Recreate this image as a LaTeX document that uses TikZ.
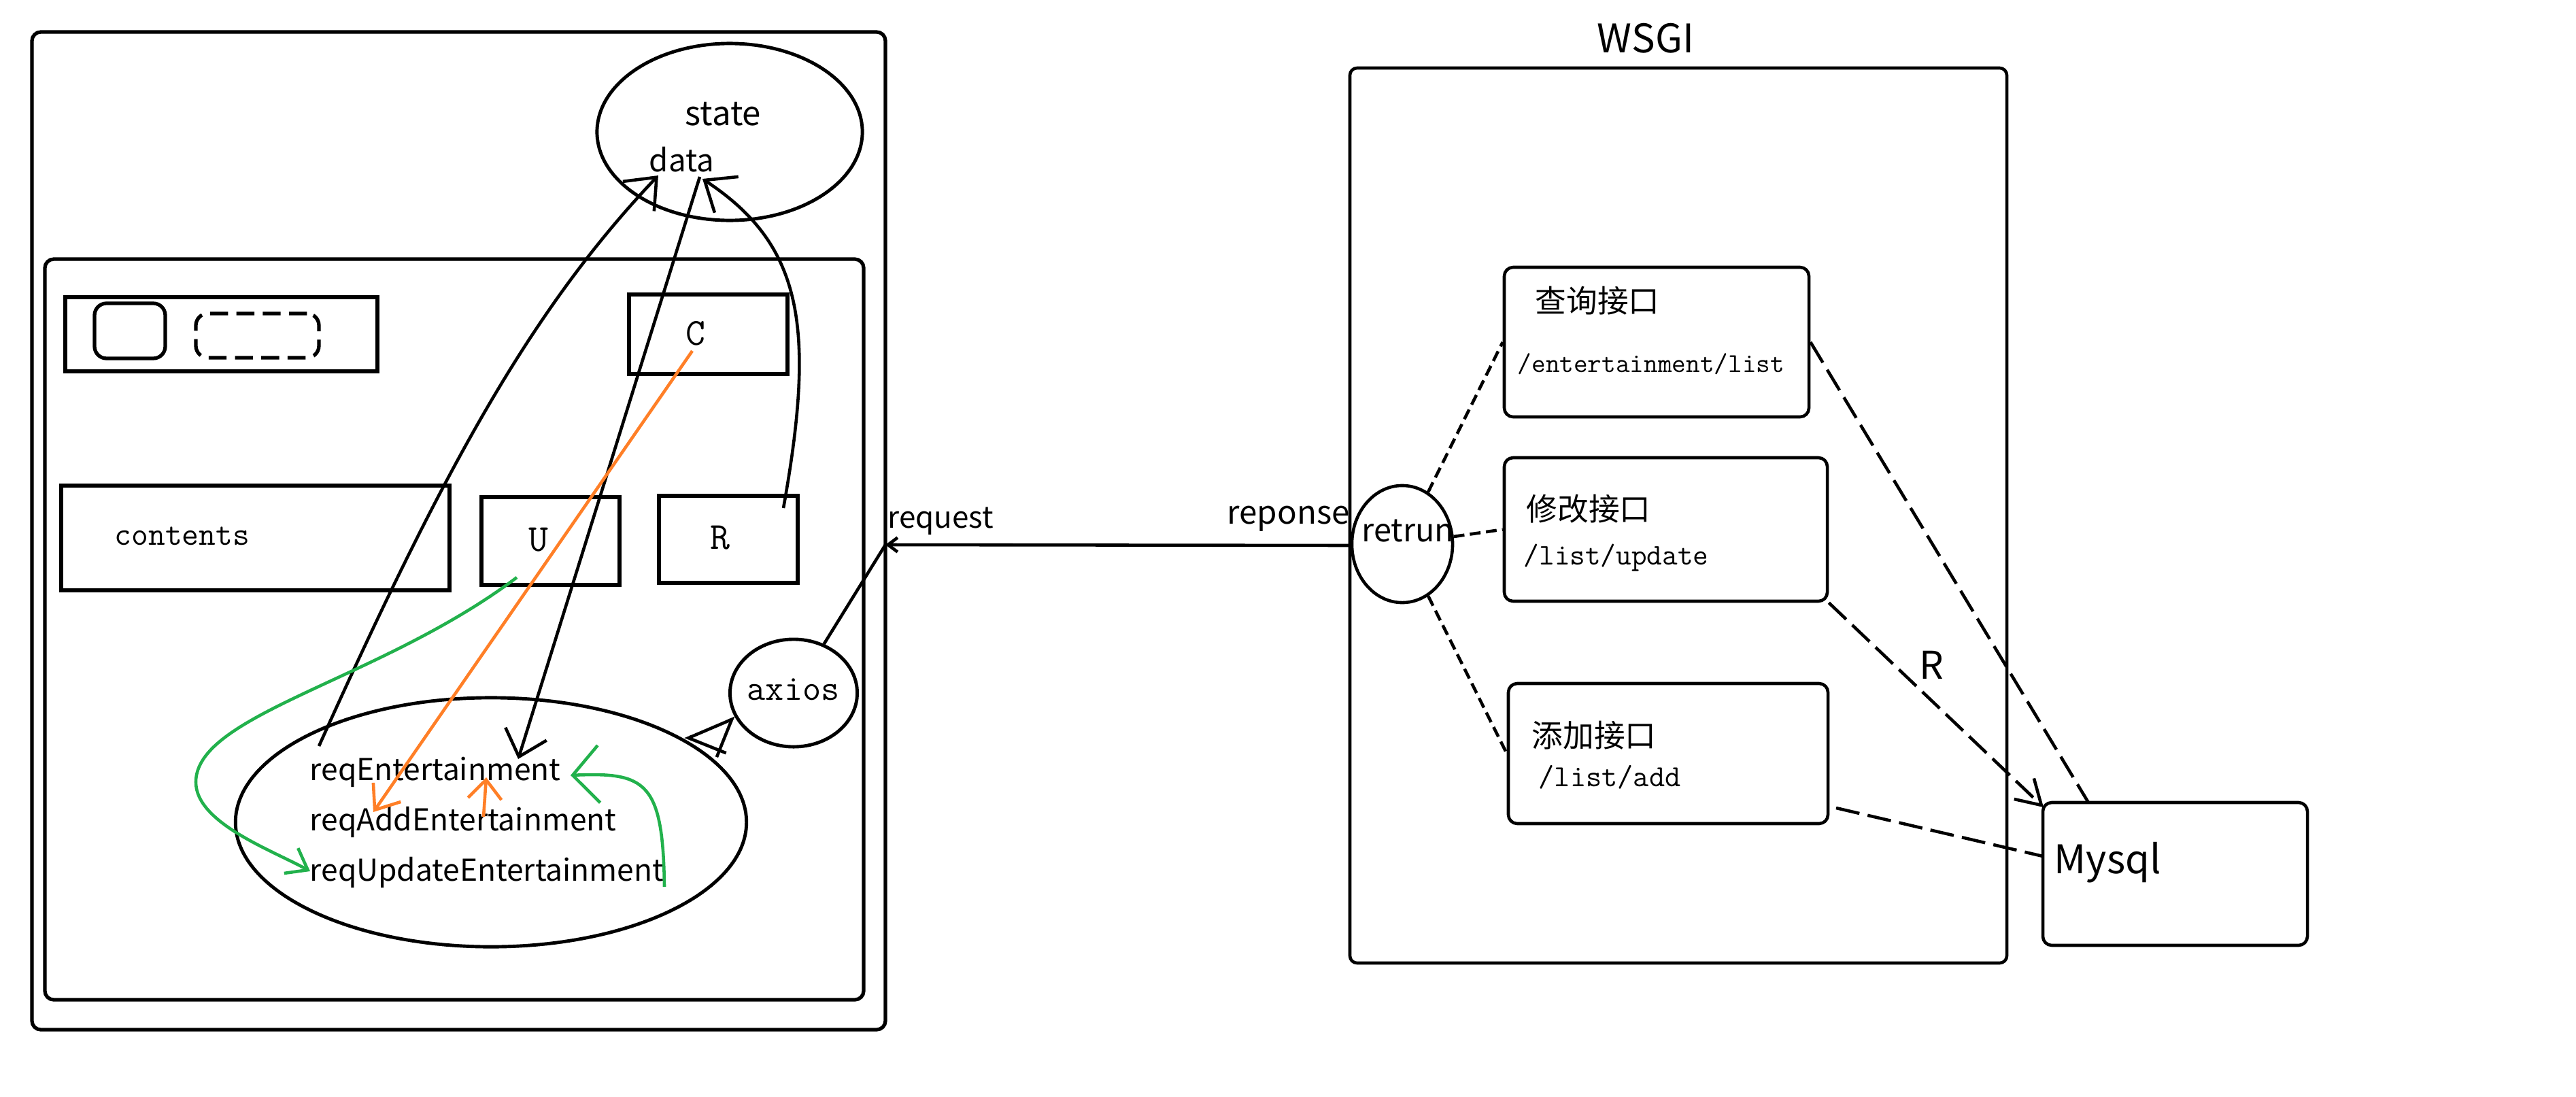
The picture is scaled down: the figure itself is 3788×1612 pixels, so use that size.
\documentclass[tikz,border=0pt]{standalone}
\usepackage{fontspec}
\newfontfamily\cjk{Noto Sans CJK SC}
\usetikzlibrary{shapes.geometric,arrows.meta,fit}
\definecolor{paintorange}{RGB}{255,127,39}
\definecolor{paintgreen}{RGB}{34,177,76}
\begin{document}
\begin{tikzpicture}[x=0.01cm,y=-0.01cm,
  box/.style={draw, line width=1.5pt, inner sep=0pt},
  rbox/.style={box, rounded corners=3.7pt},
  oval/.style={draw, ellipse, line width=1.4pt, inner sep=0pt},
  lbl/.style={inner sep=0pt, anchor=west},
  sf/.style={inner sep=0pt, font=\cjk\fontsize{#1}{#1}\selectfont},
  tt/.style={inner sep=0pt, font=\ttfamily\fontsize{#1}{#1}\selectfont},
  conn/.style={line width=1.3pt},
  blk/.style={conn, -{Straight Barb[length=11pt,width=18pt]}},
  org/.style={conn, paintorange, -{Straight Barb[length=9pt,width=14pt]}},
  grn/.style={conn, paintgreen},
  shortdash/.style={conn, dash pattern=on 4.5pt off 2.3pt},
  longdash/.style={conn, dash pattern=on 10pt off 3.5pt},
]
\useasboundingbox (0,0) rectangle (3788,1612);

% ---------------- left panel ----------------
\node[rbox, fit={(47,47)(1302,1514)}] (outer) {};
\node[oval, minimum width=3.9cm, minimum height=2.6cm] (state) at (1073,194) {};
\node[sf=14pt, lbl] (stateT) at (1007,168) {state};
\node[sf=13pt, lbl] (dataT) at (954,235) {data};

\node[rbox, fit={(66,381)(1270,1470)}] (inner) {};
\node[box, fit={(96,437)(555,546)}] (toolbar) {};
\node[box, rounded corners=5pt, fit={(139,446)(243,527)}] (btnA) {};
\node[box, rounded corners=5pt, dash pattern=on 7.5pt off 3.5pt, fit={(288,461)(469,526)}] (btnB) {};

\node[box, fit={(925,433)(1158,550)}] (Cbox) {};
\node[tt=16pt] (Ct) at (1023,490) {C};
\node[box, fit={(90,714)(661,868)}] (contents) {};
\node[tt=13.7pt, lbl] (contentsT) at (168,788) {contents};
\node[box, fit={(708,731)(911,860)}] (Ubox) {};
\node[tt=16pt] (Ut) at (792,794) {U};
\node[box, fit={(969,729)(1173,857)}] (Rbox) {};
\node[tt=16pt] (Rt) at (1059,791) {R};

\node[oval, minimum width=7.51cm, minimum height=3.66cm] (reqs) at (722,1209) {};
\node[sf=12.6pt, lbl] (reqE) at (455,1135) {reqEntertainment};
\node[sf=12.6pt, lbl] (reqA) at (455,1209) {reqAddEntertainment};
\node[sf=12.6pt, lbl] (reqU) at (455,1283) {reqUpdateEntertainment};

\node[oval, minimum width=1.87cm, minimum height=1.58cm] (axios) at (1167,1019) {};
\node[tt=15pt, lbl] (axiosT) at (1098,1014) {axios};

% ---------------- right panel ----------------
\node[rbox, rounded corners=3pt, line width=1.3pt, fit={(1985,100)(2951,1416)}] (wsgi) {};
\node[sf=16.5pt] (wsgiT) at (2420,56) {WSGI};

\node[rbox, line width=1.3pt, fit={(2212,393)(2660,613)}] (qry) {};
\node[sf=13pt, lbl] (qryT) at (2257,442) {查询接口};
\node[tt=11.4pt, lbl] (qryP) at (2231,535) {/entertainment/list};

\node[rbox, line width=1.3pt, fit={(2212,673)(2687,884)}] (upd) {};
\node[sf=13pt, lbl] (updT) at (2244,748) {修改接口};
\node[tt=12.5pt, lbl] (updP) at (2240,820) {/list/update};

\node[rbox, line width=1.3pt, fit={(2218,1005)(2688,1211)}] (add) {};
\node[sf=13pt, lbl] (addT) at (2252,1081) {添加接口};
\node[tt=12.8pt, lbl] (addP) at (2262,1143) {/list/add};

\node[oval, line width=1.3pt, minimum width=1.48cm, minimum height=1.72cm] (ret) at (2062,800) {};
\node[sf=13.3pt, lbl] (retT) at (2002,781) {retrun};

\node[rbox, line width=1.3pt, fit={(3004,1180)(3393,1390)}] (mysql) {};
\node[sf=16.5pt, lbl] (mysqlT) at (3020,1268) {Mysql};
\node[sf=16pt] (Rlab) at (2840,978) {R};

% ---------------- coordinates ----------------
\coordinate (reqL) at (1302,801);
\coordinate (reqR) at (1985,802);
\coordinate (dA) at (968,258);
\coordinate (dB) at (1029,260);
\coordinate (dC) at (1033,263);
\coordinate (aS) at (469,1097);
\coordinate (bE) at (762,1116);
\coordinate (cS) at (1152,747);
\coordinate (oS) at (1018,516);
\coordinate (oE) at (549,1194);
\coordinate (o2S) at (711,1201);
\coordinate (o2E) at (715,1143);
\coordinate (gS) at (760,849);
\coordinate (gM) at (288,1150);
\coordinate (gE) at (456,1281);
\coordinate (g2S) at (977,1304);
\coordinate (g2E) at (839,1140);
\coordinate (mq) at (3071,1180);
\coordinate (mu) at (3005,1187);
\coordinate (aE) at (2700,1188);
\coordinate (ma) at (3004,1259);

% ---------------- connectors ----------------
\draw[conn, {Straight Barb[length=4pt,width=6pt]}-] (reqL) -- (reqR);
\node[sf=12.5pt, lbl] (requestT) at (1305,766) {request};
\node[sf=13.5pt, lbl] (reponseT) at (1804,763) {reponse};
\draw[conn] (axios) -- (reqL);
\draw[conn, {Straight Barb[harpoon,swap,length=12pt,width=24pt]}-{Straight Barb[harpoon,length=12pt,width=24pt]}] (axios) -- (reqs);

\draw[blk] (aS) .. controls (649,697) and (778,458) .. (dA);
\draw[blk, -{Straight Barb[length=10pt,width=18pt]}] (dB) -- (bE);
\draw[blk] (cS) .. controls (1200,480) and (1180,360) .. (dC);

\draw[org] (oS) -- (oE);
\draw[org, -{Straight Barb[length=8pt,width=14pt]}] (o2S) -- (o2E);

\draw[grn, -{Straight Barb[length=8pt,width=12pt]}] (gS) .. controls (560,1000) and (288,1050) .. (gM) .. controls (288,1210) and (400,1250) .. (gE);
\draw[grn, -{Straight Barb[length=11pt,width=24pt]}] (g2S) .. controls (975,1150) and (950,1135) .. (g2E);

\draw[shortdash] (ret) -- (qry.west);
\draw[shortdash] (ret) -- (upd.west);
\draw[shortdash] (ret) -- (add.west);

\draw[longdash] (qry.east) -- (mq);
\draw[longdash, -{Straight Barb[length=10pt,width=12pt]}] (upd.south east) -- (mu);
\draw[longdash] (aE) -- (ma);
\end{tikzpicture}
\end{document}
